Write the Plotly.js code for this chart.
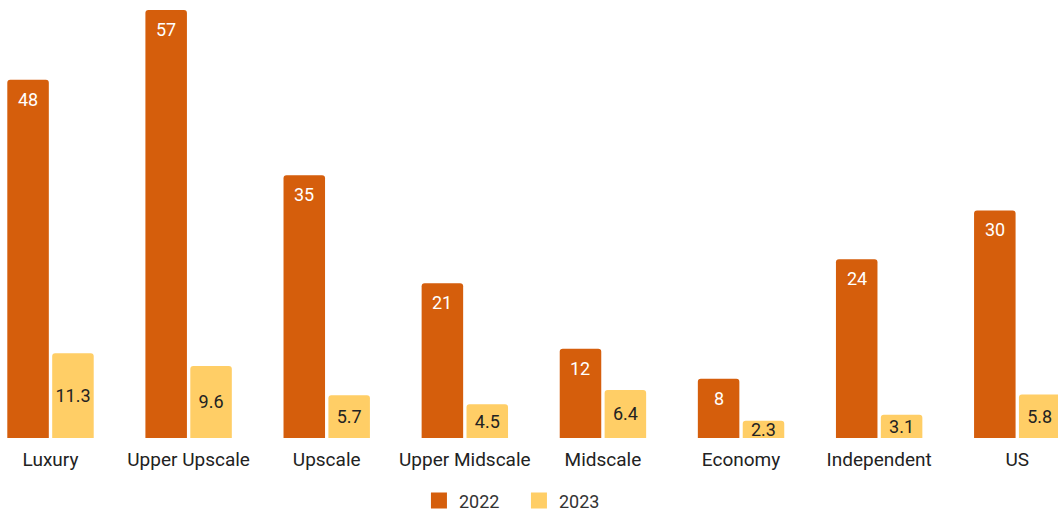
<!DOCTYPE html>
<html>
<head>
<meta charset="utf-8">
<script src="https://cdn.plot.ly/plotly-3.0.1.min.js"></script>
<style>html,body{margin:0;padding:0;background:#fff;}#chart{width:1058px;height:514px;}</style>
</head>
<body>
<div id="chart"></div>
<script>
const categories = ['Luxury', 'Upper Upscale', 'Upscale', 'Upper Midscale', 'Midscale', 'Economy', 'Independent', 'US'];
const values2022 = [47.7, 57, 35, 20.6, 11.9, 7.9, 23.8, 30.3];
const values2023 = [11.3, 9.6, 5.7, 4.5, 6.4, 2.3, 3.1, 5.8];
const seriesNames = ['2022', '2023'];
const colors = ['#D55E0C', '#FFCE66'];

const BARGAP = 0.35;
const slotHalf = (1 - BARGAP) / 4;

const FAMILY = 'Roboto, "Open Sans", sans-serif';

const traces = [
  {
    type: 'bar', name: seriesNames[0], x: categories, y: values2022,
    marker: {color: colors[0]}, showlegend: false
  },
  {
    type: 'bar', name: seriesNames[1], x: categories, y: values2023,
    marker: {color: colors[1]}, showlegend: false,
    text: values2023.map(v => v.toFixed(1)),
    textposition: 'inside', insidetextanchor: 'middle', constraintext: 'none',
    textfont: {family: FAMILY, size: 18, color: '#222'},
    cliponaxis: false
  },
  // legend entries (larger square swatches)
  {
    type: 'scatter', mode: 'markers', name: seriesNames[0], x: [null], y: [null],
    marker: {symbol: 'square', size: 18, color: colors[0]}
  },
  {
    type: 'scatter', mode: 'markers', name: seriesNames[1], x: [null], y: [null],
    marker: {symbol: 'square', size: 18, color: colors[1]}
  }
];

const annotations = values2022.map((v, i) => ({
  x: i - slotHalf, y: v, xref: 'x', yref: 'y',
  text: String(Math.round(v)), showarrow: false,
  yanchor: 'top', xanchor: 'center', yshift: -7,
  font: {family: FAMILY, size: 18, color: '#fff'}
}));

const layout = {
  width: 1058, height: 514,
  margin: {l: 0, r: 0, t: 10, b: 76, autoexpand: false},
  paper_bgcolor: '#fff', plot_bgcolor: '#fff',
  font: {family: FAMILY, size: 18, color: '#222'},
  barmode: 'group', bargap: BARGAP, bargroupgap: 0.075,
  barcornerradius: 3,
  xaxis: {
    type: 'category', range: [-0.3657, 7.295], automargin: false,
    showgrid: false, zeroline: false, showline: false, ticks: '',
    ticklabelstandoff: 8,
    tickfont: {family: FAMILY, size: 19, color: '#222'}
  },
  yaxis: {range: [0, 57], visible: false, fixedrange: true},
  showlegend: true,
  legend: {
    orientation: 'h', x: 0.4905, xanchor: 'center', y: -0.147, yanchor: 'middle',
    font: {family: FAMILY, size: 18, color: '#333'},
    itemsizing: 'trace', entrywidth: 55, entrywidthmode: 'pixels',
    traceorder: 'normal'
  },
  annotations: annotations
};

Plotly.newPlot('chart', traces, layout, {displayModeBar: false, staticPlot: true});
</script>
</body>
</html>
